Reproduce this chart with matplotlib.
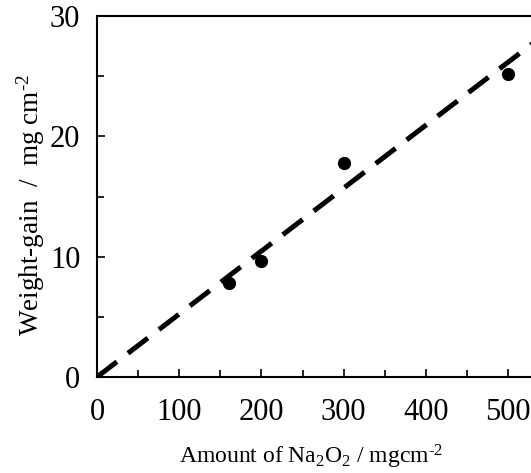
import numpy as np
import matplotlib.pyplot as plt

plt.rcParams['font.family'] = 'Liberation Serif'
plt.rcParams['mathtext.fontset'] = 'custom'
plt.rcParams['mathtext.rm'] = 'Liberation Serif'
plt.rcParams['mathtext.it'] = 'Liberation Serif:italic'

amount = [160, 200, 300, 500]
weight_gain = [7.8, 9.6, 17.8, 25.2]
fit_x = [0, 600]
fit_y = [0, 31.4]

fig = plt.figure(figsize=(5.31, 4.73), dpi=100)
ax = fig.add_axes([0.1827, 0.203, 0.929, 0.763])

ax.plot(fit_x, fit_y, color='black', lw=3.6, dashes=(5, 2.8), solid_capstyle='butt')
ax.plot(amount, weight_gain, 'o', color='black', markersize=8.5)

ax.set_xlim(0, 600)
ax.set_ylim(0, 30)
ax.set_xticks([0, 100, 200, 300, 400, 500])
ax.set_xticks([50, 150, 250, 350, 450, 550], minor=True)
ax.set_yticks([0, 10, 20, 30])
ax.set_yticks([5, 15, 25], minor=True)
ax.tick_params(which='both', direction='in', labelsize=22, width=1.2)
ax.tick_params(which='major', length=6)
ax.tick_params(which='minor', length=5)
ax.tick_params(axis='x', pad=15)
ax.tick_params(axis='y', pad=12)
for s in ax.spines.values():
    s.set_linewidth(1.5)

ax.set_xlabel('Amount of Na$_2$O$_2$ / mgcm$^{\\text{-2}}$', fontsize=17)
ax.set_ylabel('Weight-gain  /  mg cm$^{\\text{-2}}$', fontsize=19.5)
# centre the x label under the visible part of the axis
ax.xaxis.set_label_coords((311 - 97) / (0.929 * 531), -0.183)
ax.yaxis.set_label_coords(-0.101, 0.475)

fig.savefig('out.png', dpi=100)
